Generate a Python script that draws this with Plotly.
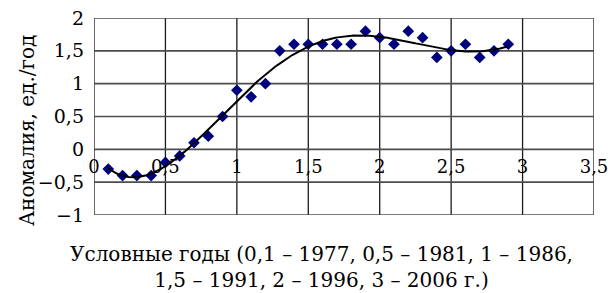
import numpy as np
import plotly.graph_objects as go

years = [0.1, 0.2, 0.3, 0.4, 0.5, 0.6, 0.7, 0.8, 0.9, 1.0, 1.1, 1.2, 1.3, 1.4, 1.5,
         1.6, 1.7, 1.8, 1.9, 2.0, 2.1, 2.2, 2.3, 2.4, 2.5, 2.6, 2.7, 2.8, 2.9]
anomaly = [-0.3, -0.4, -0.4, -0.4, -0.2, -0.1, 0.1, 0.2, 0.5, 0.9, 0.8, 1.0, 1.5, 1.6, 1.6,
           1.6, 1.6, 1.6, 1.8, 1.7, 1.6, 1.8, 1.7, 1.4, 1.5, 1.6, 1.4, 1.5, 1.6]

x_ticks = [0, 0.5, 1, 1.5, 2, 2.5, 3, 3.5]
x_tick_labels = ["0", "0,5", "1", "1,5", "2", "2,5", "3", "3,5"]
y_ticks = [-1, -0.5, 0, 0.5, 1, 1.5, 2]
y_tick_labels = ["\u22121", "\u22120,5", "0", "0,5", "1", "1,5", "2"]

# polynomial trend (6th order) fitted to the data
coef = np.polyfit(years, anomaly, 6)
xt = np.linspace(min(years), max(years), 200)
yt = np.polyval(coef, xt)

FONT = "DejaVu Serif"
fig = go.Figure()

# grid drawn as line traces following the tick arrays
gx, gy = [], []
for v in x_ticks:
    gx += [v, v, None]
    gy += [y_ticks[0], y_ticks[-1], None]
fig.add_trace(go.Scatter(x=gx, y=gy, mode="lines", line=dict(color="#1a1a1a", width=1.3),
                         hoverinfo="skip", showlegend=False, cliponaxis=False))
hx, hy = [], []
for v in y_ticks:
    hx += [x_ticks[0], x_ticks[-1], None]
    hy += [v, v, None]
fig.add_trace(go.Scatter(x=hx, y=hy, mode="lines", line=dict(color="#4d4d4d", width=1.6),
                         hoverinfo="skip", showlegend=False, cliponaxis=False))

fig.add_trace(go.Scatter(x=years, y=anomaly, mode="markers",
                         marker=dict(symbol="diamond", size=9, color="#00007f"),
                         showlegend=False))
fig.add_trace(go.Scatter(x=xt, y=yt, mode="lines",
                         line=dict(color="black", width=2), showlegend=False))
fig.add_trace(go.Scatter(x=[0, 3.5], y=[0, 0], xaxis="x2", mode="lines",
                         line=dict(width=0), hoverinfo="skip", showlegend=False))

fig.update_layout(
    width=608, height=293,
    margin=dict(l=94, r=14, t=18, b=78, autoexpand=False),
    plot_bgcolor="white", paper_bgcolor="white",
    font=dict(family=FONT, size=19, color="black"),
    xaxis=dict(range=[0, 3.5], tickvals=x_ticks, showticklabels=False,
               showgrid=False, zeroline=False, showline=False, ticks=""),
    xaxis2=dict(range=[0, 3.5], tickvals=x_ticks, ticktext=x_tick_labels,
                overlaying="x", anchor="free", position=1/3, side="bottom",
                showgrid=False, zeroline=False, showline=False, ticks="",
                ticklabelstandoff=5, ticklabeloverflow="allow",
                tickfont=dict(family=FONT, size=18)),
    yaxis=dict(range=[-1, 2], tickvals=y_ticks, ticktext=y_tick_labels,
               showgrid=False, zeroline=False, showline=False, ticks="",
               ticklabelstandoff=9,
               tickfont=dict(family=FONT, size=19)),
    annotations=[
        dict(text="Условные годы (0,1 – 1977, 0,5 – 1981, 1 – 1986,<br>1,5 – 1991, 2 – 1996, 3 – 2006 г.)",
             xref="paper", yref="paper", x=0.454, y=-0.125, xanchor="center", yanchor="top",
             showarrow=False, align="center", font=dict(family=FONT, size=20)),
        dict(text="Аномалия, ед./год", textangle=-90,
             xref="paper", yref="paper", x=-0.134, y=0.426, xanchor="center", yanchor="middle",
             showarrow=False, font=dict(family=FONT, size=20)),
    ],
)

fig.write_html("out.html", config={"displayModeBar": False},
               post_script="document.body.style.margin='0';")
